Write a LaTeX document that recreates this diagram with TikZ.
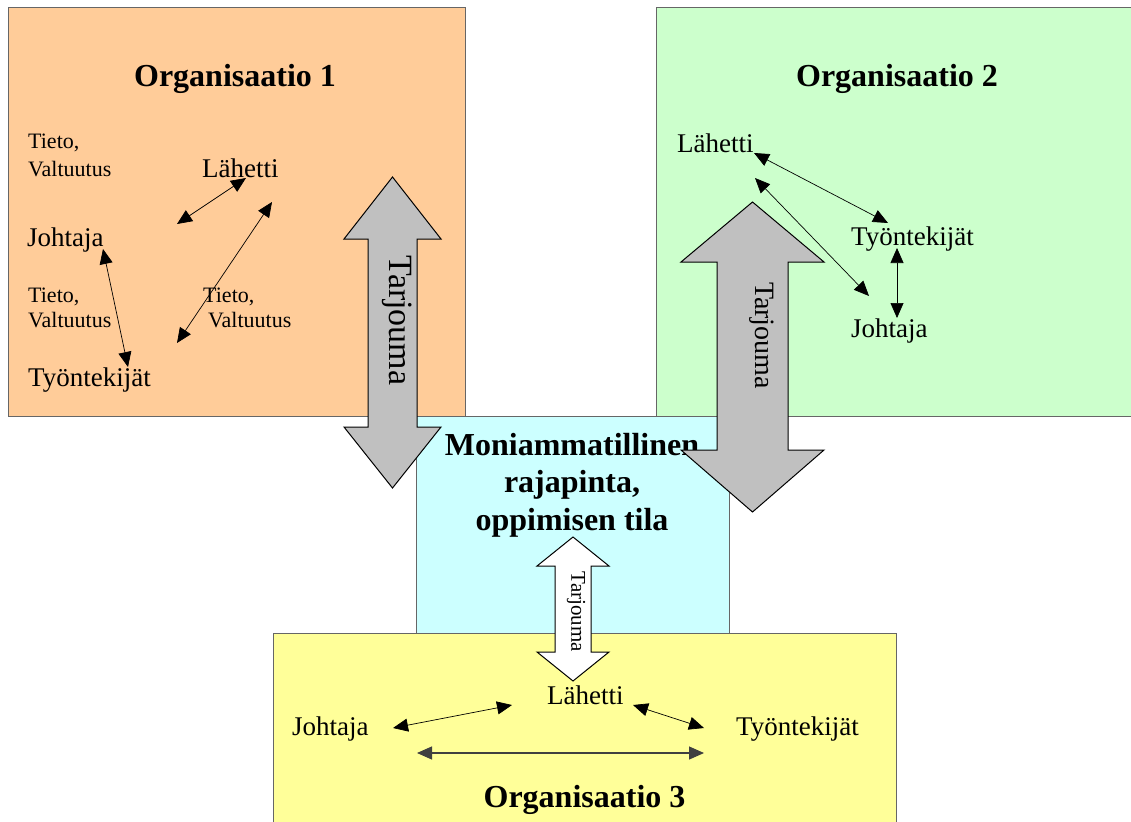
\documentclass[tikz,border=0pt]{standalone}
\usepackage{fontspec}
\setmainfont{Liberation Serif}
\usetikzlibrary{arrows.meta}
\newcommand\setsz[1]{\fontsize{#1}{#1}\selectfont}
\definecolor{orgA}{HTML}{FFCC99}
\definecolor{orgB}{HTML}{CCFFCC}
\definecolor{orgC}{HTML}{FFFF99}
\definecolor{middle}{HTML}{CCFFFF}
\definecolor{bigarrow}{HTML}{C0C0C0}
\tikzset{
  box/.style={draw=black!60, line width=1pt},
  lbl/.style={inner sep=0pt, anchor=base west, font=\setsz{27}},
  note/.style={inner sep=0pt, anchor=base west, font=\setsz{22}},
  ttl/.style={inner sep=0pt, anchor=base, font=\setsz{32}\bfseries},
  link/.style={{Triangle[length=15pt,width=13pt]}-{Triangle[length=15pt,width=13pt]}, line width=0.7pt},
  fat/.style={fill=bigarrow, draw=black, line width=1pt, line join=miter},
  hollow/.style={fill=white, draw=black, line width=1pt, line join=miter},
}
\begin{document}
\begin{tikzpicture}[x=1pt, y=-1pt]
\useasboundingbox (0,0) rectangle (1131,821);

% areas
\draw[box, fill=middle] (416,416) rectangle (729,633);
\draw[box, fill=orgA] (8,8) rectangle (465,416);
\draw[box, fill=orgB] (656,8) rectangle (1145,416);
\draw[box, fill=orgC] (273,633) rectangle (896,835);

% shared interface
\node[ttl] (m1) at (572,455) {Moniammatillinen};
\node[ttl] (m2) at (572,492) {rajapinta,};
\node[ttl] (m3) at (572,530) {oppimisen tila};

% organisation 1
\node[ttl] (o1) at (235,87) {Organisaatio 1};
\node[note] (t1a) at (28,149) {Tieto,};
\node[note] (t1b) at (28,177) {Valtuutus};
\node[lbl] (lah1) at (202,178) {Lähetti};
\node[lbl] (joh1) at (27,246) {Johtaja};
\node[note] (t2a) at (28,302) {Tieto,};
\node[note] (t2b) at (28,327) {Valtuutus};
\node[note] (t3a) at (203,302) {Tieto,};
\node[note] (t3b) at (208,327) {Valtuutus};
\node[lbl] (tyo1) at (28,386) {Työntekijät};

\coordinate (a1s) at (177,224); \coordinate (a1e) at (246,178);
\coordinate (a2s) at (177,343); \coordinate (a2e) at (272,202);
\coordinate (a3s) at (103,249); \coordinate (a3e) at (128,367);
\draw[link] (a1s) -- (a1e);
\draw[link] (a2s) -- (a2e);
\draw[link] (a3s) -- (a3e);

% organisation 2
\node[ttl] (o2) at (897,87) {Organisaatio 2};
\node[lbl] (lah2) at (677,153) {Lähetti};
\node[lbl] (tyo2) at (851,245) {Työntekijät};
\node[lbl] (joh2) at (851,337) {Johtaja};

\coordinate (b1s) at (754,153); \coordinate (b1e) at (888,223);
\coordinate (b2s) at (755,178); \coordinate (b2e) at (869,296);
\coordinate (b3s) at (897,248); \coordinate (b3e) at (897,318);
\draw[link] (b1s) -- (b1e);
\draw[link] (b2s) -- (b2e);
\draw[link] (b3s) -- (b3e);

% organisation 3
\node[ttl] (o3) at (584.5,807) {Organisaatio 3};
\node[lbl] (joh3) at (292,735) {Johtaja};
\node[lbl] (lah3) at (547,704) {Lähetti};
\node[lbl] (tyo3) at (736,735) {Työntekijät};

\coordinate (c1s) at (393,728); \coordinate (c1e) at (512,705);
\coordinate (c2s) at (633,705); \coordinate (c2e) at (704,728);
\coordinate (c3s) at (417,753); \coordinate (c3e) at (704,753);
\draw[link] (c1s) -- (c1e);
\draw[link] (c2s) -- (c2e);
\draw[link, line width=1.2pt, draw=black!75] (c3s) -- (c3e);

% double block arrows
\draw[fat] (392.5,177) -- (441,239) -- (417,239) -- (417,427) -- (441,427)
  -- (392.5,488) -- (344,427) -- (368,427) -- (368,239) -- (344,239) -- cycle;
\node[inner sep=0pt, rotate=-90, font=\setsz{34}] (tj1) at (397,320.5) {Tarjouma};

\draw[fat] (752.5,202) -- (824,262) -- (788,262) -- (788,450) -- (824,450)
  -- (752.5,512) -- (681,450) -- (717,450) -- (717,262) -- (681,262) -- cycle;
\node[inner sep=0pt, rotate=-90, font=\setsz{28}] (tj2) at (762,335.5) {Tarjouma};

\draw[hollow] (573,537) -- (609,566) -- (591,566) -- (591,652) -- (609,652)
  -- (573,681) -- (537,652) -- (555,652) -- (555,566) -- (537,566) -- cycle;
\node[inner sep=0pt, rotate=-90, font=\setsz{21}] (tj3) at (576,612) {Tarjouma};

\end{tikzpicture}
\end{document}
